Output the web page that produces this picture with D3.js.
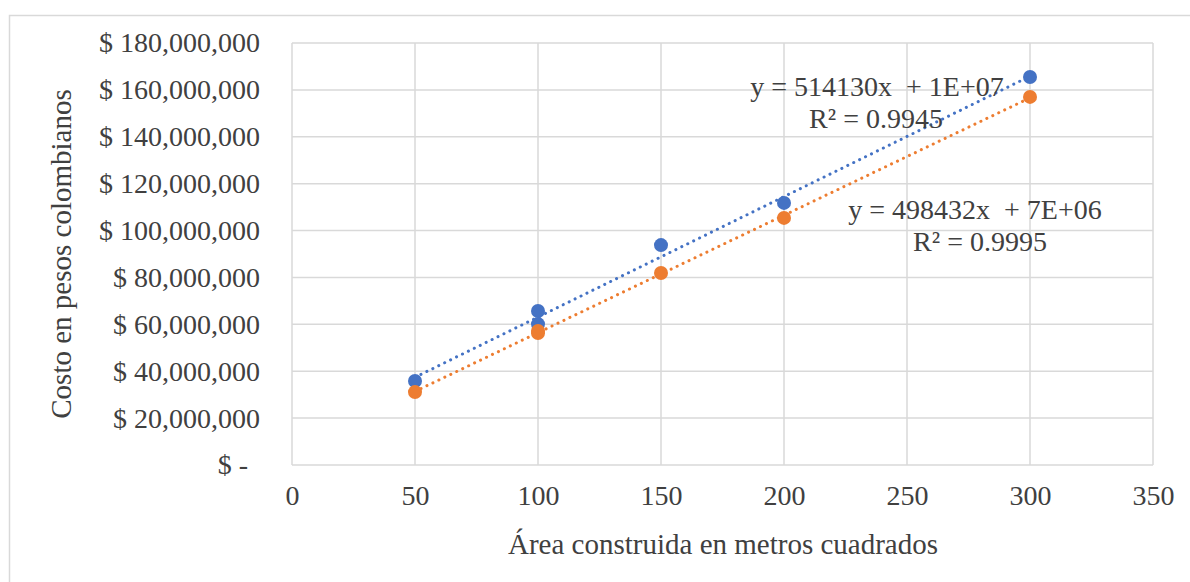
<!DOCTYPE html>
<html>
<head>
<meta charset="utf-8">
<script src="https://cdn.jsdelivr.net/npm/d3@7"></script>
<style>
  html, body { margin: 0; padding: 0; background: #ffffff; }
  svg { display: block; }
  text { font-family: "Liberation Serif", "Times New Roman", serif; fill: #404040; }
</style>
</head>
<body>
<svg id="chart" width="1190" height="582"></svg>
<script>
// Built area (m²) and cost in Colombian pesos, two series
const areaA = [50, 100, 100, 150, 200, 300];
const costA = [35800000, 65700000, 60100000, 93800000, 111800000, 165500000];
const areaB = [50, 100, 100, 150, 200, 300];
const costB = [31100000, 56300000, 57200000, 81900000, 105400000, 157000000];

const seriesColors = ["#4472C4", "#ED7D31"];
const trendEquations = ["y = 514130x  + 1E+07", "y = 498432x  + 7E+06"];
const trendR2 = ["R² = 0.9945", "R² = 0.9995"];

const xTicks = [0, 50, 100, 150, 200, 250, 300, 350];
const yTicks = [0, 20e6, 40e6, 60e6, 80e6, 100e6, 120e6, 140e6, 160e6, 180e6];
const yTickLabels = ["$ -", "$ 20,000,000", "$ 40,000,000", "$ 60,000,000", "$ 80,000,000",
  "$ 100,000,000", "$ 120,000,000", "$ 140,000,000", "$ 160,000,000", "$ 180,000,000"];

const xTitle = "Área construida en metros cuadrados";
const yTitle = "Costo en pesos colombianos";

const FONT = "Liberation Serif, Times New Roman, serif";
const FS = 28;

const svg = d3.select("#chart");
const W = 1190, H = 582;
const plot = { left: 292, top: 43, right: 1153, bottom: 465 };

// chart frame
svg.append("rect")
  .attr("x", 9.5).attr("y", 15.5)
  .attr("width", W + 20).attr("height", H + 20)
  .attr("fill", "#fff").attr("stroke", "#d9d9d9").attr("stroke-width", 1.5);

const x = d3.scaleLinear().domain([0, 350]).range([plot.left, plot.right]);
const y = d3.scaleLinear().domain([0, 180e6]).range([plot.bottom, plot.top]);

// gridlines
const grid = svg.append("g").attr("stroke", "#d9d9d9").attr("stroke-width", 1.5);
grid.selectAll("line.h").data(yTicks).join("line")
  .attr("x1", plot.left).attr("x2", plot.right)
  .attr("y1", d => y(d)).attr("y2", d => y(d));
grid.selectAll("line.v").data(xTicks).join("line")
  .attr("y1", plot.top).attr("y2", plot.bottom)
  .attr("x1", d => x(d)).attr("x2", d => x(d));

// y axis labels
const yAxis = d3.axisLeft(y).tickValues(yTicks)
  .tickFormat((d, i) => yTickLabels[i]).tickSize(0).tickPadding(32);
const gy = svg.append("g").attr("transform", `translate(${plot.left},0)`).call(yAxis);
gy.select(".domain").remove();
gy.selectAll("text")
  .attr("font-family", FONT)
  .attr("font-size", FS).attr("fill", "#404040")
  .attr("dx", d => d === 0 ? -12 : 0);

// x axis labels
const xAxis = d3.axisBottom(x).tickValues(xTicks).tickSize(0).tickPadding(20)
  .tickFormat(d3.format("d"));
const gx = svg.append("g").attr("transform", `translate(0,${plot.bottom})`).call(xAxis);
gx.select(".domain").remove();
gx.selectAll("text")
  .attr("font-family", FONT)
  .attr("font-size", FS).attr("fill", "#404040");

// axis titles
svg.append("text")
  .attr("x", 723).attr("y", 554)
  .attr("text-anchor", "middle").attr("font-size", 29)
  .text(xTitle);
svg.append("text")
  .attr("transform", `translate(71,${(plot.top + plot.bottom) / 2}) rotate(-90)`)
  .attr("text-anchor", "middle").attr("font-size", 29)
  .text(yTitle);

// least-squares fit
function fit(xs, ys) {
  const n = xs.length;
  const mx = d3.mean(xs), my = d3.mean(ys);
  let sxy = 0, sxx = 0;
  for (let i = 0; i < n; i++) { sxy += (xs[i] - mx) * (ys[i] - my); sxx += (xs[i] - mx) ** 2; }
  const m = sxy / sxx;
  return { m, b: my - m * mx };
}

const series = [
  { xs: areaA, ys: costA, color: seriesColors[0] },
  { xs: areaB, ys: costB, color: seriesColors[1] }
];

// dotted trendlines
series.forEach(s => {
  const f = fit(s.xs, s.ys);
  const x0 = d3.min(s.xs), x1 = d3.max(s.xs);
  svg.append("line")
    .attr("x1", x(x0)).attr("y1", y(f.m * x0 + f.b))
    .attr("x2", x(x1)).attr("y2", y(f.m * x1 + f.b))
    .attr("stroke", s.color).attr("stroke-width", 3)
    .attr("stroke-linecap", "round").attr("stroke-dasharray", "0.1 6.5");
});

// markers (orange drawn over blue)
series.forEach(s => {
  svg.append("g").selectAll("circle")
    .data(s.xs.map((v, i) => [v, s.ys[i]]))
    .join("circle")
    .attr("cx", d => x(d[0])).attr("cy", d => y(d[1]))
    .attr("r", 7).attr("fill", s.color);
});

// trendline equations
const eqPos = [[877, 96, 876, 128], [975, 219, 980, 251]];
eqPos.forEach((p, i) => {
  svg.append("text").attr("x", p[0]).attr("y", p[1])
    .attr("text-anchor", "middle").attr("font-size", FS)
    .attr("fill", "#404040").style("white-space", "pre")
    .text(trendEquations[i]);
  svg.append("text").attr("x", p[2]).attr("y", p[3])
    .attr("text-anchor", "middle").attr("font-size", FS)
    .attr("fill", "#404040")
    .text(trendR2[i]);
});
</script>
</body>
</html>
